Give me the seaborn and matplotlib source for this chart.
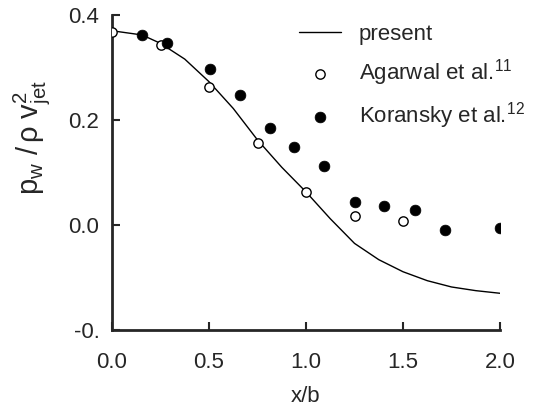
import numpy as np
import pandas as pd
import matplotlib
matplotlib.use("Agg")
import matplotlib.pyplot as plt
import seaborn as sns

# ---- data ----
present_x = [0.0, 0.155, 0.25, 0.375, 0.5, 0.625, 0.75, 0.875, 1.0, 1.125, 1.25, 1.375, 1.5, 1.625, 1.75, 1.875, 2.0]
present_y = [0.370, 0.362, 0.346, 0.316, 0.273, 0.222, 0.162, 0.110, 0.063, 0.012, -0.035, -0.066, -0.089, -0.106, -0.118, -0.125, -0.130]

agarwal_x = [0.0, 0.25, 0.5, 0.75, 1.0, 1.25, 1.5]
agarwal_y = [0.367, 0.342, 0.262, 0.156, 0.062, 0.018, 0.008]

koransky_x = [0.156, 0.285, 0.505, 0.66, 0.814, 0.94, 1.095, 1.25, 1.404, 1.562, 1.716, 2.0]
koransky_y = [0.361, 0.346, 0.298, 0.248, 0.184, 0.149, 0.112, 0.044, 0.037, 0.029, -0.009, -0.005]

x_ticks = [0.0, 0.5, 1.0, 1.5, 2.0]
x_tick_labels = ["0.0", "0.5", "1.0", "1.5", "2.0"]
y_ticks = [-0.2, 0.0, 0.2, 0.4]
y_tick_labels = ["-0.", "0.0", "0.2", "0.4"]

sns.set_style("ticks")
plt.rcParams['font.family'] = ['Liberation Sans', 'DejaVu Sans']
plt.rcParams['mathtext.fontset'] = 'custom'
plt.rcParams['mathtext.rm'] = 'Liberation Sans'
plt.rcParams['mathtext.it'] = 'Liberation Sans'

fig = plt.figure(figsize=(5.4, 4.11), dpi=100)
ax = fig.add_axes([0.2074, 0.197, 0.7186, 0.7665])

df_line = pd.DataFrame({"x": present_x, "y": present_y})
df_ag = pd.DataFrame({"x": agarwal_x, "y": agarwal_y})
df_ko = pd.DataFrame({"x": koransky_x, "y": koransky_y})

sns.lineplot(data=df_line, x="x", y="y", ax=ax, color="black", lw=1.0,
             label="present")
sns.scatterplot(data=df_ag, x="x", y="y", ax=ax, marker="o", s=45,
                facecolor="white", edgecolor="black", linewidth=1.0,
                label="Agarwal et al.$^{11}$", zorder=3)
sns.scatterplot(data=df_ko, x="x", y="y", ax=ax, marker="o", s=60,
                color="black", edgecolor="black", linewidth=0.5,
                label="Koransky et al.$^{12}$", zorder=3)

ax.set_xlim(0.0, 2.0)
ax.set_ylim(-0.2, 0.4)
ax.set_xticks(x_ticks)
ax.set_xticklabels(x_tick_labels)
ax.set_yticks(y_ticks)
ax.set_yticklabels(y_tick_labels)
ax.tick_params(direction="in", length=6, width=1.5, labelsize=16, pad=9)
ax.tick_params(axis="x", pad=16)

for side in ["top", "right"]:
    ax.spines[side].set_visible(False)
for side in ["left", "bottom"]:
    ax.spines[side].set_linewidth(2.0)

ax.set_xlabel("x/b", fontsize=16, labelpad=9)
ax.set_ylabel("")
fig.text(0.058, 0.665, r"$\mathrm{p}_{w}\,\,/\,\rho\,\,\mathrm{v}^{2}_{jet}$",
         rotation=90, fontsize=21, ha="center", va="center")

leg = ax.legend(loc="upper right", bbox_to_anchor=(1.115, 1.035), frameon=False,
                fontsize=16, handlelength=1.9, handletextpad=0.8,
                labelspacing=0.55)

fig.savefig("out.png", dpi=100)
